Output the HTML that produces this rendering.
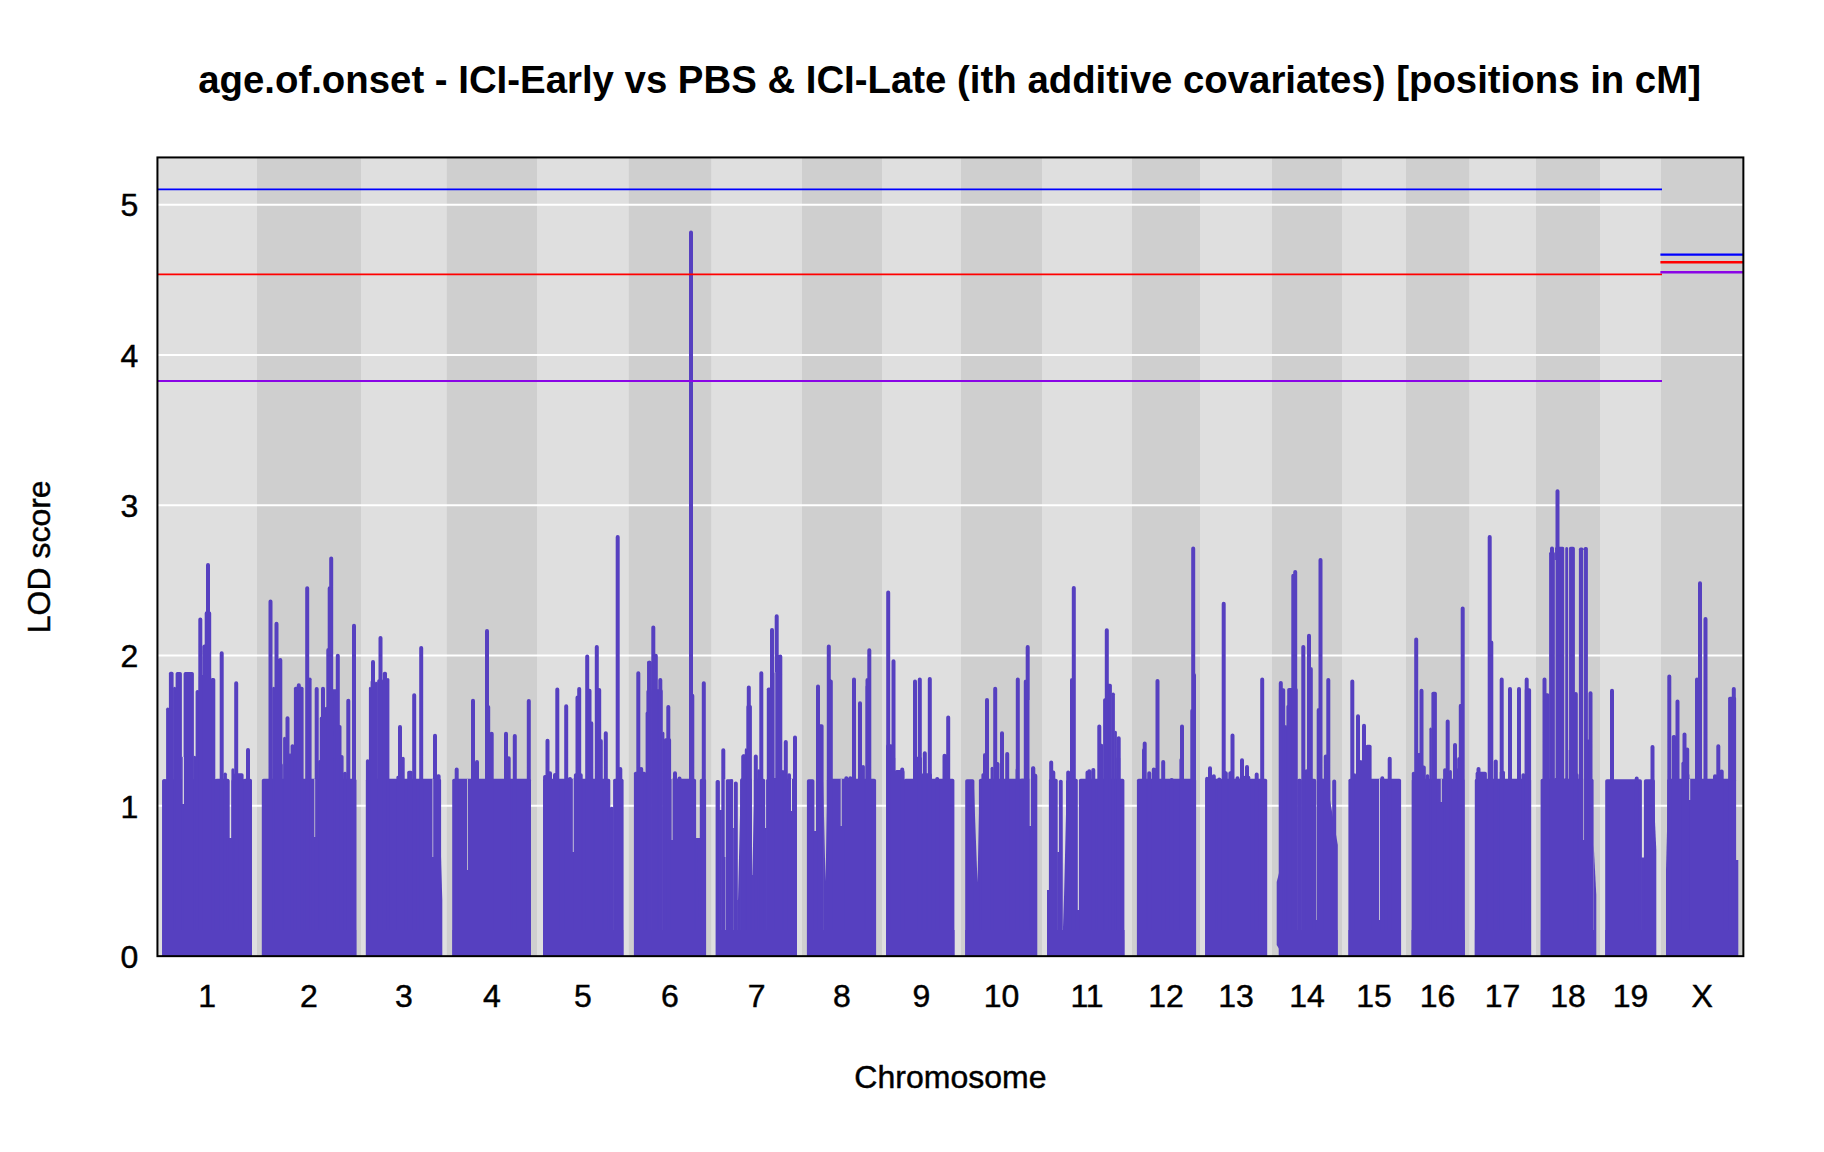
<!DOCTYPE html><html><head><meta charset="utf-8"><title>LOD plot</title>
<style>html,body{margin:0;padding:0;background:#fff}svg{display:block}text{stroke:#000;stroke-width:0.45px;font-family:"Liberation Sans",sans-serif;fill:#000}</style></head><body>
<svg width="1824" height="1152" viewBox="0 0 1824 1152">
<rect width="1824" height="1152" fill="#fff"/>
<rect x="157.44" y="157.44" width="1585.92" height="798.72" fill="#dfdfdf"/>
<rect x="257.00" y="157.44" width="104.00" height="798.72" fill="#cfcfcf"/>
<rect x="446.80" y="157.44" width="90.20" height="798.72" fill="#cfcfcf"/>
<rect x="628.80" y="157.44" width="82.40" height="798.72" fill="#cfcfcf"/>
<rect x="802.00" y="157.44" width="80.00" height="798.72" fill="#cfcfcf"/>
<rect x="961.00" y="157.44" width="81.00" height="798.72" fill="#cfcfcf"/>
<rect x="1132.00" y="157.44" width="68.00" height="798.72" fill="#cfcfcf"/>
<rect x="1272.00" y="157.44" width="70.00" height="798.72" fill="#cfcfcf"/>
<rect x="1406.00" y="157.44" width="63.20" height="798.72" fill="#cfcfcf"/>
<rect x="1536.00" y="157.44" width="64.00" height="798.72" fill="#cfcfcf"/>
<rect x="1661.00" y="157.44" width="82.36" height="798.72" fill="#cfcfcf"/>
<line x1="157.44" x2="1743.36" y1="805.86" y2="805.86" stroke="#fff" stroke-width="2"/>
<line x1="157.44" x2="1743.36" y1="655.56" y2="655.56" stroke="#fff" stroke-width="2"/>
<line x1="157.44" x2="1743.36" y1="505.26" y2="505.26" stroke="#fff" stroke-width="2"/>
<line x1="157.44" x2="1743.36" y1="354.96" y2="354.96" stroke="#fff" stroke-width="2"/>
<line x1="157.44" x2="1743.36" y1="204.66" y2="204.66" stroke="#fff" stroke-width="2"/>
<clipPath id="cp"><rect x="157.44" y="157.44" width="1585.92" height="798.72"/></clipPath>
<g clip-path="url(#cp)">
<g fill="#5640c0" stroke="none">
<rect x="162.2" y="779.2" width="67.2" height="183.0" rx="1.8"/>
<rect x="231.4" y="779.2" width="20.5" height="183.0" rx="1.8"/>
<rect x="162.2" y="779.2" width="4.3" height="183.0" rx="1.8"/>
<rect x="166.1" y="707.5" width="3.3" height="254.7" rx="1.8"/>
<rect x="168.9" y="671.7" width="4.7" height="290.5" rx="1.8"/>
<rect x="173.1" y="686.7" width="3.0" height="275.5" rx="1.8"/>
<rect x="175.6" y="672.0" width="6.3" height="290.2" rx="1.8"/>
<rect x="181.4" y="756.7" width="2.7" height="205.5" rx="1.8"/>
<rect x="183.6" y="672.0" width="10.3" height="290.2" rx="1.8"/>
<rect x="193.4" y="755.8" width="2.7" height="206.3" rx="1.8"/>
<rect x="195.6" y="690.0" width="3.8" height="272.2" rx="1.8"/>
<rect x="198.9" y="675.0" width="12.2" height="287.2" rx="1.8"/>
<rect x="210.6" y="678.0" width="4.7" height="284.2" rx="1.8"/>
<rect x="214.8" y="778.7" width="14.7" height="183.5" rx="1.8"/>
<rect x="223.4" y="772.5" width="3.5" height="189.7" rx="1.8"/>
<rect x="231.4" y="768.3" width="3.0" height="193.8" rx="1.8"/>
<rect x="233.9" y="773.3" width="9.7" height="188.8" rx="1.8"/>
<rect x="243.1" y="778.8" width="8.8" height="183.3" rx="1.8"/>
<rect x="261.8" y="778.7" width="94.7" height="183.5" rx="1.8"/>
<rect x="272.2" y="686.7" width="3.0" height="275.5" rx="1.8"/>
<rect x="274.8" y="763.3" width="8.0" height="198.8" rx="1.8"/>
<rect x="283.1" y="736.7" width="3.0" height="225.5" rx="1.8"/>
<rect x="288.9" y="753.3" width="2.2" height="208.8" rx="1.8"/>
<rect x="290.6" y="744.2" width="3.8" height="218.0" rx="1.8"/>
<rect x="293.9" y="686.7" width="9.7" height="275.5" rx="1.8"/>
<rect x="308.1" y="677.5" width="3.5" height="284.7" rx="1.8"/>
<rect x="318.1" y="760.0" width="3.0" height="202.2" rx="1.8"/>
<rect x="319.8" y="716.7" width="2.2" height="245.5" rx="1.8"/>
<rect x="324.8" y="706.7" width="3.0" height="255.5" rx="1.8"/>
<rect x="327.2" y="689.2" width="10.5" height="273.0" rx="1.8"/>
<rect x="337.2" y="725.0" width="4.3" height="237.2" rx="1.8"/>
<rect x="339.8" y="755.0" width="3.8" height="207.2" rx="1.8"/>
<rect x="343.1" y="771.7" width="3.8" height="190.5" rx="1.8"/>
<rect x="365.9" y="778.7" width="75.2" height="183.5" rx="1.8"/>
<rect x="365.9" y="759.2" width="3.5" height="203.0" rx="1.8"/>
<rect x="368.9" y="686.7" width="2.2" height="275.5" rx="1.8"/>
<rect x="370.6" y="680.0" width="4.7" height="282.2" rx="1.8"/>
<rect x="374.8" y="681.7" width="3.0" height="280.5" rx="1.8"/>
<rect x="377.2" y="679.2" width="6.0" height="283.0" rx="1.8"/>
<rect x="382.8" y="671.7" width="4.2" height="290.5" rx="1.8"/>
<rect x="386.4" y="678.0" width="3.0" height="284.2" rx="1.8"/>
<rect x="396.4" y="775.8" width="2.2" height="186.3" rx="1.8"/>
<rect x="401.4" y="756.7" width="3.3" height="205.5" rx="1.8"/>
<rect x="407.2" y="770.8" width="5.5" height="191.3" rx="1.8"/>
<rect x="436.4" y="774.2" width="4.2" height="188.0" rx="1.8"/>
<rect x="647.2" y="660.8" width="3.8" height="301.3" rx="1.8"/>
<rect x="452.2" y="778.8" width="78.8" height="183.3" rx="1.8"/>
<rect x="543.1" y="778.8" width="67.2" height="183.3" rx="1.8"/>
<rect x="613.1" y="778.8" width="10.5" height="183.3" rx="1.8"/>
<rect x="609.8" y="806.7" width="3.8" height="155.5" rx="1.8"/>
<rect x="543.1" y="775.0" width="8.0" height="187.2" rx="1.8"/>
<rect x="573.9" y="773.3" width="8.8" height="188.8" rx="1.8"/>
<rect x="633.9" y="771.7" width="12.2" height="190.5" rx="1.8"/>
<rect x="645.6" y="711.7" width="2.2" height="250.5" rx="1.8"/>
<rect x="646.4" y="690.0" width="2.2" height="272.2" rx="1.8"/>
<rect x="647.2" y="660.8" width="4.7" height="301.3" rx="1.8"/>
<rect x="651.4" y="689.2" width="11.3" height="273.0" rx="1.8"/>
<rect x="662.2" y="731.7" width="2.2" height="230.5" rx="1.8"/>
<rect x="663.9" y="738.3" width="7.2" height="223.8" rx="1.8"/>
<rect x="670.6" y="778.8" width="25.5" height="183.3" rx="1.8"/>
<rect x="699.8" y="778.8" width="6.3" height="183.3" rx="1.8"/>
<rect x="715.6" y="780.0" width="4.3" height="182.2" rx="1.8"/>
<rect x="725.6" y="779.2" width="8.0" height="183.0" rx="1.8"/>
<rect x="740.6" y="778.8" width="3.7" height="183.3" rx="1.8"/>
<rect x="729.8" y="779.2" width="3.8" height="183.0" rx="1.8"/>
<rect x="740.1" y="778.3" width="11.8" height="183.8" rx="1.8"/>
<rect x="741.8" y="754.2" width="4.3" height="208.0" rx="1.8"/>
<rect x="744.8" y="748.3" width="2.2" height="213.8" rx="1.8"/>
<rect x="746.4" y="705.0" width="5.5" height="257.2" rx="1.8"/>
<rect x="753.9" y="778.8" width="11.3" height="183.3" rx="1.8"/>
<rect x="757.2" y="769.2" width="3.0" height="193.0" rx="1.8"/>
<rect x="766.1" y="778.8" width="30.8" height="183.3" rx="1.8"/>
<rect x="766.8" y="687.5" width="4.3" height="274.7" rx="1.8"/>
<rect x="770.6" y="672.5" width="11.3" height="289.7" rx="1.8"/>
<rect x="781.4" y="770.0" width="3.0" height="192.2" rx="1.8"/>
<rect x="787.2" y="773.3" width="3.8" height="188.8" rx="1.8"/>
<rect x="806.9" y="779.2" width="7.5" height="183.0" rx="1.8"/>
<rect x="816.1" y="724.2" width="7.5" height="238.0" rx="1.8"/>
<rect x="826.9" y="778.8" width="49.2" height="183.3" rx="1.8"/>
<rect x="861.4" y="765.0" width="3.5" height="197.2" rx="1.8"/>
<rect x="865.6" y="685.0" width="3.0" height="277.2" rx="1.8"/>
<rect x="886.1" y="744.2" width="6.7" height="218.0" rx="1.8"/>
<rect x="892.2" y="756.7" width="3.0" height="205.5" rx="1.8"/>
<rect x="894.8" y="770.0" width="9.7" height="192.2" rx="1.8"/>
<rect x="903.9" y="778.8" width="50.5" height="183.3" rx="1.8"/>
<rect x="913.1" y="756.7" width="8.8" height="205.5" rx="1.8"/>
<rect x="921.4" y="773.3" width="10.5" height="188.8" rx="1.8"/>
<rect x="965.2" y="779.2" width="9.2" height="183.0" rx="1.8"/>
<rect x="978.9" y="778.8" width="55.3" height="183.3" rx="1.8"/>
<rect x="981.4" y="773.3" width="3.0" height="188.8" rx="1.8"/>
<rect x="990.6" y="766.7" width="3.0" height="195.5" rx="1.8"/>
<rect x="1015.6" y="768.3" width="2.2" height="193.8" rx="1.8"/>
<rect x="1019.8" y="778.8" width="5.5" height="183.3" rx="1.8"/>
<rect x="1030.8" y="779.2" width="6.2" height="183.0" rx="1.8"/>
<rect x="1048.9" y="778.8" width="8.8" height="183.3" rx="1.8"/>
<rect x="1058.9" y="779.7" width="3.8" height="182.5" rx="1.8"/>
<rect x="1066.1" y="779.7" width="4.2" height="182.5" rx="1.8"/>
<rect x="1070.6" y="778.8" width="7.2" height="183.3" rx="1.8"/>
<rect x="1078.9" y="778.8" width="45.5" height="183.3" rx="1.8"/>
<rect x="1103.1" y="698.3" width="3.8" height="263.8" rx="1.8"/>
<rect x="1106.4" y="683.7" width="5.5" height="278.5" rx="1.8"/>
<rect x="1111.4" y="692.5" width="3.5" height="269.7" rx="1.8"/>
<rect x="1114.4" y="730.8" width="2.5" height="231.3" rx="1.8"/>
<rect x="1116.4" y="756.7" width="3.8" height="205.5" rx="1.8"/>
<rect x="1136.9" y="778.8" width="59.2" height="183.3" rx="1.8"/>
<rect x="1179.4" y="758.3" width="2.5" height="203.8" rx="1.8"/>
<rect x="1205.2" y="778.8" width="62.0" height="183.3" rx="1.8"/>
<rect x="1205.2" y="776.7" width="3.3" height="185.5" rx="1.8"/>
<rect x="1243.1" y="775.8" width="7.2" height="186.3" rx="1.8"/>
<rect x="1278.9" y="688.3" width="6.3" height="273.8" rx="1.8"/>
<rect x="1284.8" y="725.0" width="2.2" height="237.2" rx="1.8"/>
<rect x="1286.4" y="705.0" width="2.2" height="257.2" rx="1.8"/>
<rect x="1287.2" y="688.0" width="10.5" height="274.2" rx="1.8"/>
<rect x="1297.2" y="778.8" width="4.7" height="183.3" rx="1.8"/>
<rect x="1304.8" y="769.2" width="3.0" height="193.0" rx="1.8"/>
<rect x="1311.4" y="779.2" width="4.7" height="183.0" rx="1.8"/>
<rect x="1317.2" y="778.8" width="7.0" height="183.3" rx="1.8"/>
<rect x="1549.1" y="551.7" width="5.8" height="410.5" rx="1.8"/>
<rect x="1555.1" y="546.7" width="9.3" height="415.5" rx="1.8"/>
<rect x="1565.1" y="547.0" width="3.2" height="415.2" rx="1.8"/>
<rect x="1568.9" y="546.7" width="6.0" height="415.5" rx="1.8"/>
<rect x="1578.9" y="547.5" width="4.7" height="414.7" rx="1.8"/>
<rect x="1583.6" y="547.0" width="4.3" height="415.2" rx="1.8"/>
<rect x="1309.8" y="778.8" width="6.3" height="183.3" rx="1.8"/>
<rect x="1317.2" y="778.8" width="13.0" height="183.3" rx="1.8"/>
<rect x="1348.4" y="778.8" width="52.7" height="183.3" rx="1.8"/>
<rect x="1353.4" y="773.3" width="2.7" height="188.8" rx="1.8"/>
<rect x="1359.4" y="760.0" width="2.8" height="202.2" rx="1.8"/>
<rect x="1365.6" y="744.7" width="6.0" height="217.5" rx="1.8"/>
<rect x="1411.8" y="778.8" width="52.7" height="183.3" rx="1.8"/>
<rect x="1411.8" y="771.7" width="3.5" height="190.5" rx="1.8"/>
<rect x="1425.6" y="774.2" width="3.8" height="188.0" rx="1.8"/>
<rect x="1429.4" y="727.5" width="2.5" height="234.7" rx="1.8"/>
<rect x="1431.4" y="691.7" width="5.5" height="270.5" rx="1.8"/>
<rect x="1443.1" y="768.3" width="3.8" height="193.8" rx="1.8"/>
<rect x="1448.9" y="770.0" width="3.0" height="192.2" rx="1.8"/>
<rect x="1456.4" y="768.3" width="3.8" height="193.8" rx="1.8"/>
<rect x="1474.8" y="778.8" width="56.3" height="183.3" rx="1.8"/>
<rect x="1475.6" y="771.7" width="11.3" height="190.5" rx="1.8"/>
<rect x="1499.8" y="770.8" width="5.2" height="191.3" rx="1.8"/>
<rect x="1521.4" y="773.3" width="3.8" height="188.8" rx="1.8"/>
<rect x="1524.8" y="688.3" width="6.3" height="273.8" rx="1.8"/>
<rect x="1540.6" y="778.8" width="53.0" height="183.3" rx="1.8"/>
<rect x="1543.1" y="693.3" width="6.3" height="268.8" rx="1.8"/>
<rect x="1574.4" y="773.3" width="4.2" height="188.8" rx="1.8"/>
<rect x="1605.2" y="779.2" width="36.7" height="183.0" rx="1.8"/>
<rect x="1643.9" y="779.2" width="11.0" height="183.0" rx="1.8"/>
<rect x="1667.2" y="778.8" width="68.8" height="183.3" rx="1.8"/>
<rect x="1671.8" y="735.0" width="4.3" height="227.2" rx="1.8"/>
<rect x="1681.4" y="761.7" width="3.0" height="200.5" rx="1.8"/>
<rect x="1683.9" y="773.3" width="5.5" height="188.8" rx="1.8"/>
<rect x="1728.1" y="696.7" width="8.0" height="265.5" rx="1.8"/>
</g>
<g stroke="#5640c0" stroke-width="4" stroke-linecap="round" fill="none">
<path d="M200.3 619.6V956.2M204.5 646.6V956.2M206.7 613.3V956.2M209.2 613.3V956.2M208.0 564.9V956.2M221.7 653.3V956.2M270.5 601.6V956.2M276.5 623.8V956.2M280.3 659.9V956.2M307.2 588.3V956.2M329.7 588.3V956.2M331.2 558.6V956.2M328.3 649.9V956.2M337.8 655.8V956.2M354.0 625.8V956.2M373.0 662.1V956.2M380.5 637.9V956.2M421.2 647.9V956.2M236.2 683.3V956.2M248.0 749.9V956.2M287.5 718.3V956.2M298.8 685.3V956.2M316.7 689.1V956.2M323.0 688.8V956.2M348.3 700.8V956.2M400.0 726.9V956.2M414.2 695.3V956.2M435.0 735.8V956.2M487.0 631.1V956.2M587.2 656.6V956.2M596.8 646.9V956.2M617.7 537.1V956.2M638.3 673.3V956.2M653.3 627.4V956.2M655.8 655.8V956.2M691.0 232.6V956.2M456.7 769.6V956.2M473.0 700.8V956.2M477.0 761.9V956.2M488.2 706.9V956.2M491.7 733.8V956.2M506.0 733.8V956.2M508.7 758.3V956.2M514.8 736.1V956.2M528.8 701.1V956.2M547.5 740.8V956.2M550.0 773.3V956.2M555.0 774.9V956.2M557.3 689.4V956.2M566.2 706.3V956.2M570.0 779.1V956.2M577.5 697.4V956.2M579.2 689.1V956.2M589.5 690.8V956.2M591.3 723.3V956.2M599.2 689.9V956.2M600.8 741.1V956.2M605.8 733.3V956.2M620.3 769.1V956.2M638.3 673.6V956.2M641.2 769.1V956.2M655.8 655.8V956.2M660.3 679.9V956.2M668.3 706.9V956.2M675.0 773.3V956.2M679.5 778.6V956.2M692.3 695.8V956.2M703.8 683.3V956.2M723.3 750.3V956.2M735.8 783.6V956.2M743.3 756.6V956.2M761.3 673.3V956.2M772.0 629.9V956.2M776.7 616.3V956.2M780.3 656.6V956.2M828.8 646.6V956.2M869.3 650.3V956.2M888.2 592.4V956.2M893.5 661.3V956.2M1027.7 646.9V956.2M735.8 783.6V956.2M748.8 687.4V956.2M755.8 756.6V956.2M761.3 674.1V956.2M785.8 742.1V956.2M795.0 737.4V956.2M818.0 686.6V956.2M830.8 681.6V956.2M846.3 778.3V956.2M850.3 778.3V956.2M854.0 679.6V956.2M860.0 703.3V956.2M867.5 679.9V956.2M902.2 769.6V956.2M915.0 681.6V956.2M919.8 679.6V956.2M929.8 679.1V956.2M924.8 753.3V956.2M937.2 779.1V956.2M944.5 755.8V956.2M948.2 717.4V956.2M985.0 754.9V956.2M987.0 699.9V956.2M995.2 688.8V956.2M997.5 764.1V956.2M1002.0 733.3V956.2M1007.2 754.1V956.2M1017.8 679.6V956.2M1025.8 681.6V956.2M1033.3 768.3V956.2M1073.8 587.9V956.2M1106.8 630.3V956.2M1193.2 548.6V956.2M1223.7 603.8V956.2M1293.3 575.8V956.2M1295.2 572.1V956.2M1303.3 646.9V956.2M1309.0 635.8V956.2M1310.8 669.1V956.2M1320.5 559.9V956.2M1026.3 681.6V956.2M1033.0 768.3V956.2M1035.3 775.8V956.2M1051.2 762.4V956.2M1053.3 772.4V956.2M1068.2 772.4V956.2M1072.0 679.9V956.2M1087.5 772.4V956.2M1089.2 771.3V956.2M1093.3 769.9V956.2M1099.3 726.6V956.2M1101.3 745.8V956.2M1118.7 738.3V956.2M1144.7 743.6V956.2M1144.0 749.9V956.2M1149.2 773.3V956.2M1153.8 769.6V956.2M1157.5 681.1V956.2M1163.2 761.9V956.2M1171.7 779.9V956.2M1182.0 726.6V956.2M1192.3 710.8V956.2M1194.0 674.9V956.2M1210.0 768.3V956.2M1213.8 776.3V956.2M1219.2 779.6V956.2M1225.8 773.3V956.2M1230.3 773.3V956.2M1232.5 735.4V956.2M1237.5 778.3V956.2M1242.0 760.3V956.2M1247.0 766.9V956.2M1256.7 774.4V956.2M1262.2 679.6V956.2M1280.8 682.9V956.2M1319.2 709.9V956.2M1416.2 639.6V956.2M1462.7 608.6V956.2M1489.7 536.9V956.2M1491.3 642.4V956.2M1557.5 491.3V956.2M1552.0 548.6V956.2M1318.7 709.9V956.2M1325.8 756.6V956.2M1328.3 679.9V956.2M1334.2 781.6V956.2M1352.3 681.6V956.2M1358.0 716.3V956.2M1364.0 725.8V956.2M1382.3 778.3V956.2M1389.7 758.8V956.2M1418.7 754.9V956.2M1421.5 690.8V956.2M1423.8 767.4V956.2M1447.7 721.6V956.2M1455.0 744.9V956.2M1459.2 759.1V956.2M1460.8 705.8V956.2M1478.5 769.1V956.2M1495.8 761.6V956.2M1501.7 679.6V956.2M1510.0 689.1V956.2M1519.0 689.1V956.2M1526.7 679.6V956.2M1544.5 679.6V956.2M1575.8 694.1V956.2M1590.5 693.3V956.2M1588.0 741.6V956.2M1700.0 583.3V956.2M1705.5 619.1V956.2M1612.0 690.8V956.2M1636.7 778.6V956.2M1652.5 746.9V956.2M1669.3 676.6V956.2M1677.5 701.6V956.2M1684.5 734.4V956.2M1687.2 749.6V956.2M1697.0 679.6V956.2M1715.0 776.3V956.2M1718.3 746.3V956.2M1721.7 771.6V956.2M1733.8 689.1V956.2"/>
</g>
<g fill="#5640c0">
<polygon points="228.7,838.0 232.3,838.0 232.3,960.0 228.7,960.0"/>
<polygon points="695.2,838.0 700.6,838.0 700.6,960.0 695.2,960.0"/>
<polygon points="697.3,838.0 698.5,920.0 698.5,838.0"/>
<polygon points="740.8,780.0 738.0,900.0 737.2,900.0 737.2,960.0 740.8,960.0"/>
<polygon points="754.3,790.0 752.3,875.0 751.2,875.0 751.2,960.0 754.3,960.0"/>
<polygon points="764.5,828.0 766.8,828.0 766.8,960.0 764.5,960.0"/>
<polygon points="719.2,810.0 721.9,810.0 721.9,960.0 719.2,960.0"/>
<polygon points="813.7,831.0 817.3,831.0 817.3,960.0 813.7,960.0"/>
<polygon points="823.2,780.0 825.5,881.0 827.5,780.0 827.5,960.0 823.2,960.0"/>
<polygon points="973.7,780.0 977.5,882.5 979.7,780.0 979.7,960.0 973.7,960.0"/>
<polygon points="1029.2,827.0 1031.5,827.0 1031.5,960.0 1029.2,960.0"/>
<polygon points="1062.7,780.0 1063.3,927.0 1066.8,780.0 1066.8,960.0 1062.7,960.0"/>
<polygon points="1057.2,852.0 1059.5,852.0 1059.5,960.0 1057.2,960.0"/>
<polygon points="1069.5,872.0 1071.3,872.0 1071.3,960.0 1069.5,960.0"/>
<polygon points="1077.0,910.0 1079.7,910.0 1079.7,960.0 1077.0,960.0"/>
<polygon points="1330.0,800.0 1337.8,845.0 1337.8,960.0 1330.0,960.0"/>
<polygon points="1315.3,920.0 1318.0,920.0 1318.0,960.0 1315.3,960.0"/>
<polygon points="1641.2,857.5 1644.7,857.5 1644.7,960.0 1641.2,960.0"/>
<polygon points="1735.7,860.0 1738.3,860.0 1738.3,960.0 1735.7,960.0"/>
<polygon points="1047.0,890.0 1049.8,890.0 1049.8,960.0 1047.0,960.0"/>
<polygon points="1276.7,882.0 1279.8,870.0 1279.8,950.0 1276.7,945.0"/>
<polygon points="1593.7,845.0 1596.3,895.0 1596.3,960.0 1593.7,960.0"/>
<polygon points="440.2,830.0 442.3,900.0 442.3,960.0 440.2,960.0"/>
<polygon points="162.5,930.0 251.7,930.0 251.7,960.0 162.5,960.0"/>
<polygon points="262.0,930.0 356.2,930.0 356.2,960.0 262.0,960.0"/>
<polygon points="366.2,930.0 441.0,930.0 441.0,960.0 366.2,960.0"/>
<polygon points="452.5,930.0 531.0,930.0 531.0,960.0 452.5,960.0"/>
<polygon points="543.3,930.0 623.3,930.0 623.3,960.0 543.3,960.0"/>
<polygon points="634.2,930.0 705.8,930.0 705.8,960.0 634.2,960.0"/>
<polygon points="716.2,930.0 797.0,930.0 797.0,960.0 716.2,960.0"/>
<polygon points="807.0,930.0 876.0,930.0 876.0,960.0 807.0,960.0"/>
<polygon points="886.3,930.0 954.5,930.0 954.5,960.0 886.3,960.0"/>
<polygon points="965.3,930.0 1036.8,930.0 1036.8,960.0 965.3,960.0"/>
<polygon points="1049.0,930.0 1124.5,930.0 1124.5,960.0 1049.0,960.0"/>
<polygon points="1137.2,930.0 1195.8,930.0 1195.8,960.0 1137.2,960.0"/>
<polygon points="1205.5,930.0 1267.0,930.0 1267.0,960.0 1205.5,960.0"/>
<polygon points="1279.0,930.0 1337.5,930.0 1337.5,960.0 1279.0,960.0"/>
<polygon points="1348.5,930.0 1401.0,930.0 1401.0,960.0 1348.5,960.0"/>
<polygon points="1411.5,930.0 1464.8,930.0 1464.8,960.0 1411.5,960.0"/>
<polygon points="1474.8,930.0 1531.0,930.0 1531.0,960.0 1474.8,960.0"/>
<polygon points="1540.8,930.0 1594.0,930.0 1594.0,960.0 1540.8,960.0"/>
<polygon points="1605.3,930.0 1655.0,930.0 1655.0,960.0 1605.3,960.0"/>
<polygon points="1667.0,930.0 1737.5,930.0 1737.5,960.0 1667.0,960.0"/>
<polygon points="1654.0,800.0 1656.3,850.0 1656.3,960.0 1654.0,960.0"/>
<polygon points="1666.0,870.0 1667.8,800.0 1667.8,960.0 1666.0,960.0"/>
</g>
<line x1="183.30" x2="183.30" y1="757.0" y2="804.0" stroke="#dfdfdf" stroke-width="1.2"/>
<line x1="314.70" x2="314.70" y1="779.0" y2="837.0" stroke="#cfcfcf" stroke-width="0.8"/>
<line x1="432.80" x2="432.80" y1="779.0" y2="857.0" stroke="#dfdfdf" stroke-width="0.7"/>
<line x1="467.50" x2="467.50" y1="779.0" y2="870.0" stroke="#cfcfcf" stroke-width="0.8"/>
<line x1="573.30" x2="573.30" y1="779.0" y2="852.0" stroke="#dfdfdf" stroke-width="0.8"/>
<line x1="672.10" x2="672.10" y1="779.0" y2="840.0" stroke="#cfcfcf" stroke-width="0.9"/>
<line x1="725.20" x2="725.20" y1="779.0" y2="857.0" stroke="#dfdfdf" stroke-width="0.8"/>
<line x1="791.50" x2="791.50" y1="779.0" y2="811.0" stroke="#dfdfdf" stroke-width="1.0"/>
<line x1="841.20" x2="841.20" y1="779.0" y2="826.0" stroke="#cfcfcf" stroke-width="1.0"/>
<line x1="1379.50" x2="1379.50" y1="779.0" y2="920.0" stroke="#dfdfdf" stroke-width="0.8"/>
<line x1="1441.30" x2="1441.30" y1="779.0" y2="802.0" stroke="#cfcfcf" stroke-width="1.0"/>
<line x1="1583.55" x2="1583.55" y1="550.0" y2="840.0" stroke="#cfcfcf" stroke-width="0.7"/>
<line x1="1564.75" x2="1564.75" y1="548.0" y2="778.0" stroke="#cfcfcf" stroke-width="0.7"/>
<line x1="1568.60" x2="1568.60" y1="548.0" y2="750.0" stroke="#cfcfcf" stroke-width="0.7"/>
<line x1="1555.40" x2="1555.40" y1="560.0" y2="778.0" stroke="#cfcfcf" stroke-width="0.6"/>
<line x1="1689.70" x2="1689.70" y1="779.0" y2="800.0" stroke="#cfcfcf" stroke-width="1.0"/>
<line x1="1030.30" x2="1030.30" y1="700.0" y2="826.0" stroke="#cfcfcf" stroke-width="1.2"/>
<line x1="733.50" x2="733.50" y1="779.0" y2="828.0" stroke="#dfdfdf" stroke-width="0.8"/>
<line x1="774.90" x2="774.90" y1="672.0" y2="778.0" stroke="#dfdfdf" stroke-width="0.6"/>
<line x1="157.4" x2="1662.0" y1="189.4" y2="189.4" stroke="#0000ff" stroke-width="1.9"/>
<line x1="157.4" x2="1662.0" y1="274.4" y2="274.4" stroke="#ff0000" stroke-width="1.9"/>
<line x1="157.4" x2="1662.0" y1="381.0" y2="381.0" stroke="#8a05e6" stroke-width="1.9"/>
<line x1="1660.4" x2="1743.4" y1="254.6" y2="254.6" stroke="#0000ff" stroke-width="2.4"/>
<line x1="1660.4" x2="1743.4" y1="262.2" y2="262.2" stroke="#ff0000" stroke-width="2.4"/>
<line x1="1660.4" x2="1743.4" y1="272.2" y2="272.2" stroke="#8a05e6" stroke-width="2.4"/>
</g>
<rect x="157.44" y="157.44" width="1585.92" height="798.72" fill="none" stroke="#000" stroke-width="2"/>
<text x="949.6" y="92.5" text-anchor="middle" font-size="38.36" font-weight="bold" style="stroke:none">age.of.onset - ICI-Early vs PBS &amp; ICI-Late (ith additive covariates) [positions in cM]</text>
<text x="950.4" y="1087.5" text-anchor="middle" font-size="32">Chromosome</text>
<text transform="translate(49.9 556.8) rotate(-90)" text-anchor="middle" font-size="32">LOD score</text>
<text x="138.2" y="967.9" text-anchor="end" font-size="32">0</text>
<text x="138.2" y="817.6" text-anchor="end" font-size="32">1</text>
<text x="138.2" y="667.3" text-anchor="end" font-size="32">2</text>
<text x="138.2" y="517.0" text-anchor="end" font-size="32">3</text>
<text x="138.2" y="366.7" text-anchor="end" font-size="32">4</text>
<text x="138.2" y="216.4" text-anchor="end" font-size="32">5</text>
<text x="207.2" y="1007.1" text-anchor="middle" font-size="32">1</text>
<text x="309.0" y="1007.1" text-anchor="middle" font-size="32">2</text>
<text x="403.9" y="1007.1" text-anchor="middle" font-size="32">3</text>
<text x="491.9" y="1007.1" text-anchor="middle" font-size="32">4</text>
<text x="582.9" y="1007.1" text-anchor="middle" font-size="32">5</text>
<text x="670.0" y="1007.1" text-anchor="middle" font-size="32">6</text>
<text x="756.6" y="1007.1" text-anchor="middle" font-size="32">7</text>
<text x="842.0" y="1007.1" text-anchor="middle" font-size="32">8</text>
<text x="921.5" y="1007.1" text-anchor="middle" font-size="32">9</text>
<text x="1001.5" y="1007.1" text-anchor="middle" font-size="32">10</text>
<text x="1087.0" y="1007.1" text-anchor="middle" font-size="32">11</text>
<text x="1166.0" y="1007.1" text-anchor="middle" font-size="32">12</text>
<text x="1236.0" y="1007.1" text-anchor="middle" font-size="32">13</text>
<text x="1307.0" y="1007.1" text-anchor="middle" font-size="32">14</text>
<text x="1374.0" y="1007.1" text-anchor="middle" font-size="32">15</text>
<text x="1437.6" y="1007.1" text-anchor="middle" font-size="32">16</text>
<text x="1502.6" y="1007.1" text-anchor="middle" font-size="32">17</text>
<text x="1568.0" y="1007.1" text-anchor="middle" font-size="32">18</text>
<text x="1630.5" y="1007.1" text-anchor="middle" font-size="32">19</text>
<text x="1702.2" y="1007.1" text-anchor="middle" font-size="32">X</text>
</svg></body></html>
